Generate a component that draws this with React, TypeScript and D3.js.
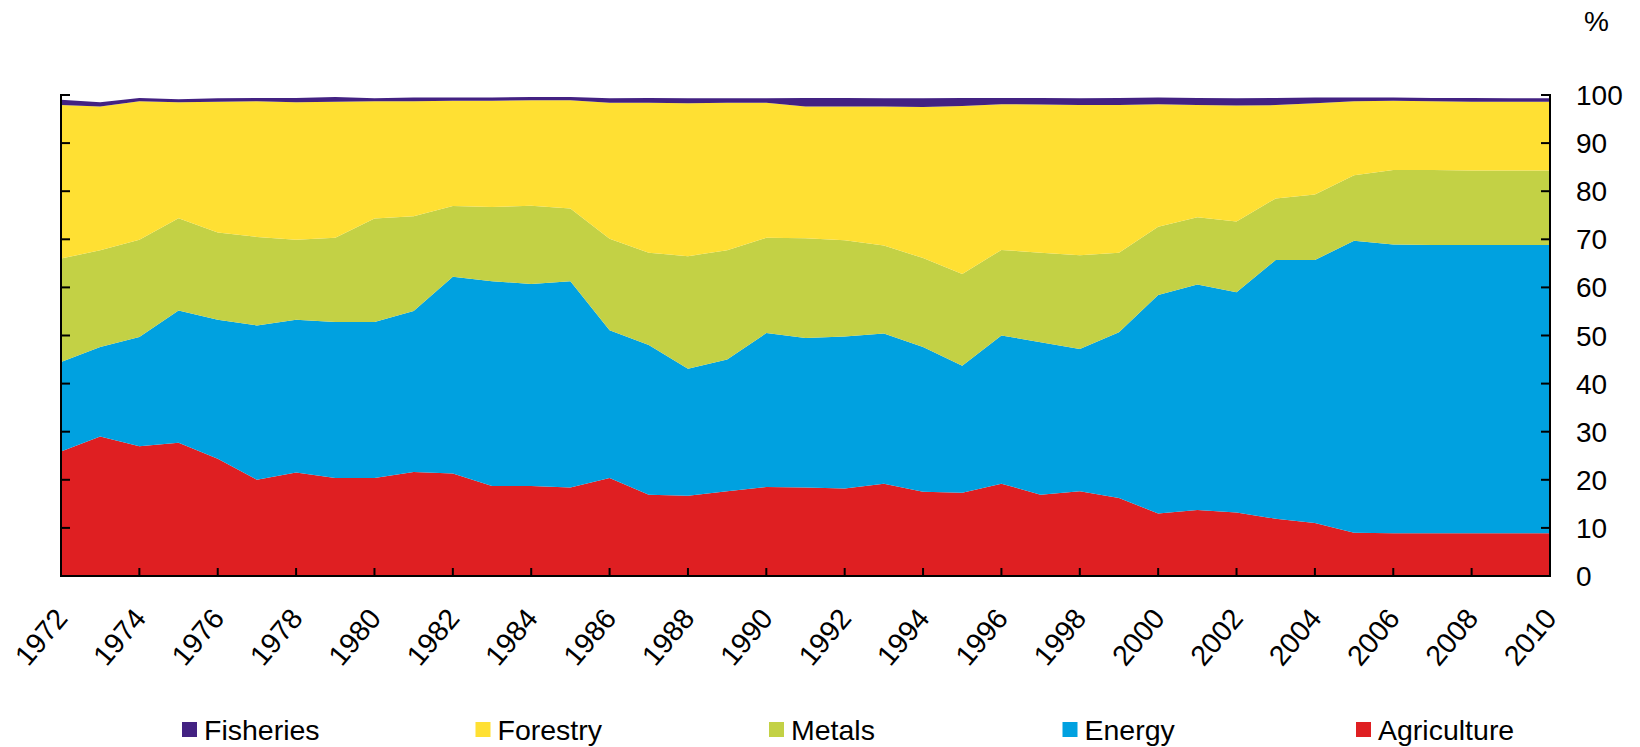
import * as d3 from 'd3';

const WIDTH = 1640;
const HEIGHT = 747;

// shares of commodity exports, % of total
const years = [
  1972, 1973, 1974, 1975, 1976, 1977, 1978, 1979, 1980, 1981,
  1982, 1983, 1984, 1985, 1986, 1987, 1988, 1989, 1990, 1991,
  1992, 1993, 1994, 1995, 1996, 1997, 1998, 1999, 2000, 2001,
  2002, 2003, 2004, 2005, 2006, 2007, 2008, 2009, 2010,
];
const agriculture = [
  25.9, 29.0, 27.0, 27.7, 24.4, 20.0, 21.5, 20.4, 20.4, 21.6,
  21.3, 18.7, 18.7, 18.4, 20.4, 16.9, 16.7, 17.6, 18.5, 18.4,
  18.2, 19.2, 17.5, 17.3, 19.2, 16.9, 17.6, 16.2, 13.0, 13.7,
  13.2, 11.9, 11.0, 9.0, 8.9, 8.9, 8.9, 8.9, 8.9,
];
const energy = [
  18.6, 18.6, 22.7, 27.5, 28.9, 32.1, 31.8, 32.4, 32.4, 33.5,
  40.9, 42.6, 42.0, 42.9, 30.7, 31.1, 26.4, 27.4, 32.0, 31.1,
  31.6, 31.2, 30.1, 26.4, 30.8, 31.7, 29.6, 34.5, 45.4, 46.9,
  45.8, 53.8, 54.7, 60.7, 60.0, 59.9, 59.9, 59.9, 59.9,
];
const metals = [
  21.5, 20.1, 20.2, 19.2, 18.1, 18.4, 16.6, 17.5, 21.5, 19.7,
  14.7, 15.4, 16.3, 15.1, 19.0, 19.2, 23.4, 22.7, 19.8, 20.7,
  20.0, 18.3, 18.5, 19.1, 17.8, 18.6, 19.5, 16.5, 14.2, 14.0,
  14.7, 12.8, 13.6, 13.6, 15.5, 15.6, 15.5, 15.5, 15.5,
];
const forestry = [
  31.9, 29.9, 28.8, 24.1, 27.2, 28.2, 28.6, 28.3, 24.4, 23.9,
  21.9, 22.1, 21.9, 22.5, 28.3, 31.2, 31.8, 30.7, 28.1, 27.4,
  27.8, 28.9, 31.4, 34.9, 30.3, 30.8, 31.2, 30.7, 25.5, 23.3,
  24.1, 19.4, 19.0, 15.4, 14.4, 14.3, 14.3, 14.3, 14.3,
];
const fisheries = [
  1.1, 0.9, 0.7, 0.6, 0.7, 0.7, 0.9, 1.0, 0.6, 0.8,
  0.7, 0.7, 0.7, 0.7, 0.9, 1.0, 1.0, 0.9, 0.9, 1.8,
  1.8, 1.7, 1.8, 1.7, 1.3, 1.4, 1.4, 1.5, 1.4, 1.5,
  1.5, 1.5, 1.2, 0.8, 0.7, 0.7, 0.8, 0.7, 0.7,
];

const seriesNames = ['Agriculture', 'Energy', 'Metals', 'Forestry', 'Fisheries'];
const legendOrder = ['Fisheries', 'Forestry', 'Metals', 'Energy', 'Agriculture'];
const colors: Record<string, string> = {
  Agriculture: '#df1f22',
  Energy: '#00a1e0',
  Metals: '#c3d145',
  Forestry: '#ffe033',
  Fisheries: '#432282',
};

const yearTicks = [
  1972, 1974, 1976, 1978, 1980, 1982, 1984, 1986, 1988, 1990,
  1992, 1994, 1996, 1998, 2000, 2002, 2004, 2006, 2008, 2010,
];
const valueTicks = [0, 10, 20, 30, 40, 50, 60, 70, 80, 90, 100];

const FONT = 'Arial, "Liberation Sans", Helvetica, sans-serif';

type Row = { year: number } & Record<string, number>;

export default function App() {
  const rows: Row[] = years.map((year, i) => ({
    year,
    Agriculture: agriculture[i],
    Energy: energy[i],
    Metals: metals[i],
    Forestry: forestry[i],
    Fisheries: fisheries[i],
  })) as Row[];

  const x = d3.scaleLinear().domain([1972, 2010]).range([61, 1550]);
  const y = d3.scaleLinear().domain([0, 100]).range([576, 95]);

  const stacked = d3.stack<Row>().keys(seriesNames)(rows);
  const area = d3
    .area<d3.SeriesPoint<Row>>()
    .x((d) => x(d.data.year))
    .y0((d) => y(d[0]))
    .y1((d) => y(d[1]));

  const legendX = d3.scalePoint<string>().domain(legendOrder).range([182, 1356]);

  const [x0, x1] = x.range();
  const [yBottom, yTop] = y.range();

  return (
    <svg
      width={WIDTH}
      height={HEIGHT}
      style={{ position: 'absolute', left: 0, top: 0, display: 'block', background: '#fff' }}
      fontFamily={FONT}
    >
      <g>
        {stacked.map((s) => (
          <path key={s.key} d={area(s) ?? ''} fill={colors[s.key]} />
        ))}
      </g>

      {/* axes frame: left, right, bottom */}
      <g stroke="#000" strokeWidth={2} fill="none">
        <line x1={x0} x2={x0} y1={yTop - 1} y2={yBottom + 1} />
        <line x1={x1} x2={x1} y1={yTop - 1} y2={yBottom + 1} />
        <line x1={x0 - 1} x2={x1 + 1} y1={yBottom} y2={yBottom} />
        {valueTicks.map((v) => (
          <g key={v}>
            <line x1={x0} x2={x0 + 9} y1={y(v)} y2={y(v)} />
            <line x1={x1} x2={x1 - 9} y1={y(v)} y2={y(v)} />
          </g>
        ))}
        {yearTicks.map((t) => (
          <line key={t} x1={x(t)} x2={x(t)} y1={yBottom} y2={yBottom - 8} />
        ))}
      </g>

      <g fontSize={28} fill="#000">
        {valueTicks.map((v) => (
          <text key={v} x={1576} y={y(v)} dy="0.36em">
            {v}
          </text>
        ))}
        <text x={1584} y={31}>%</text>
      </g>

      <g fontSize={28.5} fill="#000" textAnchor="end">
        {yearTicks.map((t) => (
          <text key={t} transform={`translate(${x(t) + 8},619) rotate(-50)`}>
            {t}
          </text>
        ))}
      </g>

      <g fontSize={28.5} fill="#000">
        {legendOrder.map((name) => {
          const lx = legendX(name) ?? 0;
          return (
            <g key={name}>
              <rect x={lx} y={722} width={15} height={15} fill={colors[name]} />
              <text x={lx + 22} y={740}>
                {name}
              </text>
            </g>
          );
        })}
      </g>
    </svg>
  );
}
